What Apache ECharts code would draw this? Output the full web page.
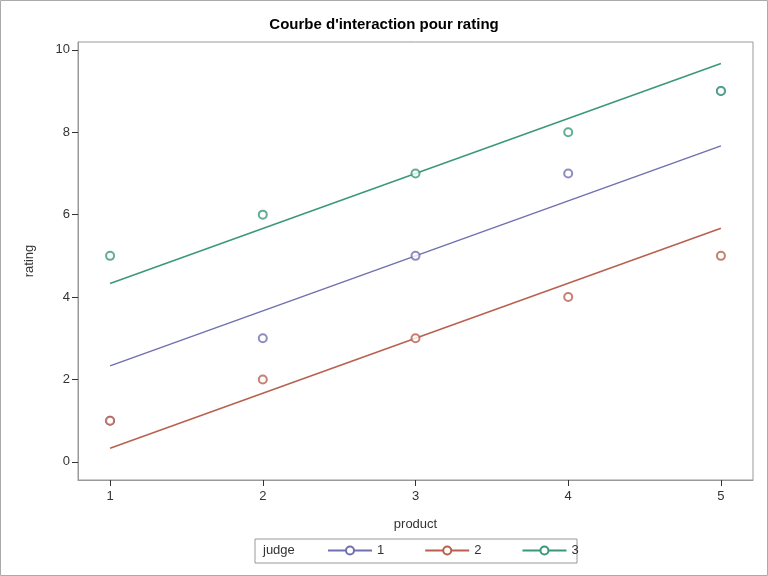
<!DOCTYPE html><html><head><meta charset="utf-8"><script src="https://cdn.jsdelivr.net/npm/echarts@6/dist/echarts.min.js"></script>
<style>html,body{margin:0;padding:0;background:#fff}#c{width:768px;height:576px}</style></head><body><div id="c"></div><script>
const products=[1,2,3,4,5];
const judges=['1','2','3'];
const ratings={'1':[1,3,5,7,9],'2':[1,2,3,4,5],'3':[5,6,7,8,9]};
const fitEnds={'1':[2.33,7.67],'2':[0.33,5.67],'3':[4.33,9.67]};
const colors={'1':'#7070b0','2':'#b8604e','3':'#3a9878'};
const yTicks=[0,2,4,6,8,10];
const series=[];
judges.forEach(j=>{
  series.push({name:j,type:'line',data:[[1,fitEnds[j][0]],[5,fitEnds[j][1]]],symbol:'emptyCircle',symbolSize:8,showSymbol:false,lineStyle:{color:colors[j],width:1.5},itemStyle:{color:colors[j]},silent:true,z:2});
  series.push({name:j,type:'scatter',data:products.map((p,i)=>[p,ratings[j][i]]),symbol:'emptyCircle',symbolSize:8,itemStyle:{color:colors[j],borderWidth:1.5},z:3});
});
const ch=echarts.init(document.getElementById('c'));
ch.setOption({
  animation:false,
  title:{text:"Courbe d'interaction pour rating",left:'center',top:12,textStyle:{fontFamily:'Liberation Sans',fontSize:15,fontWeight:'bold',color:'#000'}},
  grid:{left:78,right:15,top:42,bottom:96},
  xAxis:{type:'value',min:0.79,max:5.21,name:'product',nameLocation:'middle',nameGap:38,nameTextStyle:{fontFamily:'Liberation Sans',fontSize:13,color:'#333'},
    axisLine:{onZero:false,lineStyle:{color:'#999'}},splitLine:{show:false},
    axisTick:{customValues:products,length:6,lineStyle:{color:'#333'}},axisLabel:{customValues:products,fontFamily:'Liberation Sans',fontSize:13,color:'#333',margin:10}},
  yAxis:{type:'value',min:-0.44,max:10.19,name:'rating',nameLocation:'middle',nameGap:42,nameTextStyle:{fontFamily:'Liberation Sans',fontSize:13,color:'#333'},
    axisLine:{show:true,onZero:false,lineStyle:{color:'#999'}},splitLine:{show:false},
    axisTick:{show:true,customValues:yTicks,length:6,lineStyle:{color:'#333'}},axisLabel:{customValues:yTicks,fontFamily:'Liberation Sans',fontSize:13,color:'#333'}},
  legend:{data:judges,bottom:14,left:322,itemWidth:44,itemHeight:10,itemGap:40,textStyle:{fontFamily:'Liberation Sans',fontSize:13,color:'#333'}},
  graphic:[
    {type:'rect',shape:{x:0.5,y:0.5,width:767,height:575},style:{fill:'none',stroke:'#aaa'}},
    {type:'rect',shape:{x:78,y:42,width:675,height:438},style:{fill:'none',stroke:'#999'}},
    {type:'rect',shape:{x:255,y:539,width:322,height:24},style:{fill:'none',stroke:'#999'}},
    {type:'text',left:263,top:544,style:{text:'judge',font:'13px Liberation Sans',fill:'#333'}}
  ],
  series
});
</script></body></html>
